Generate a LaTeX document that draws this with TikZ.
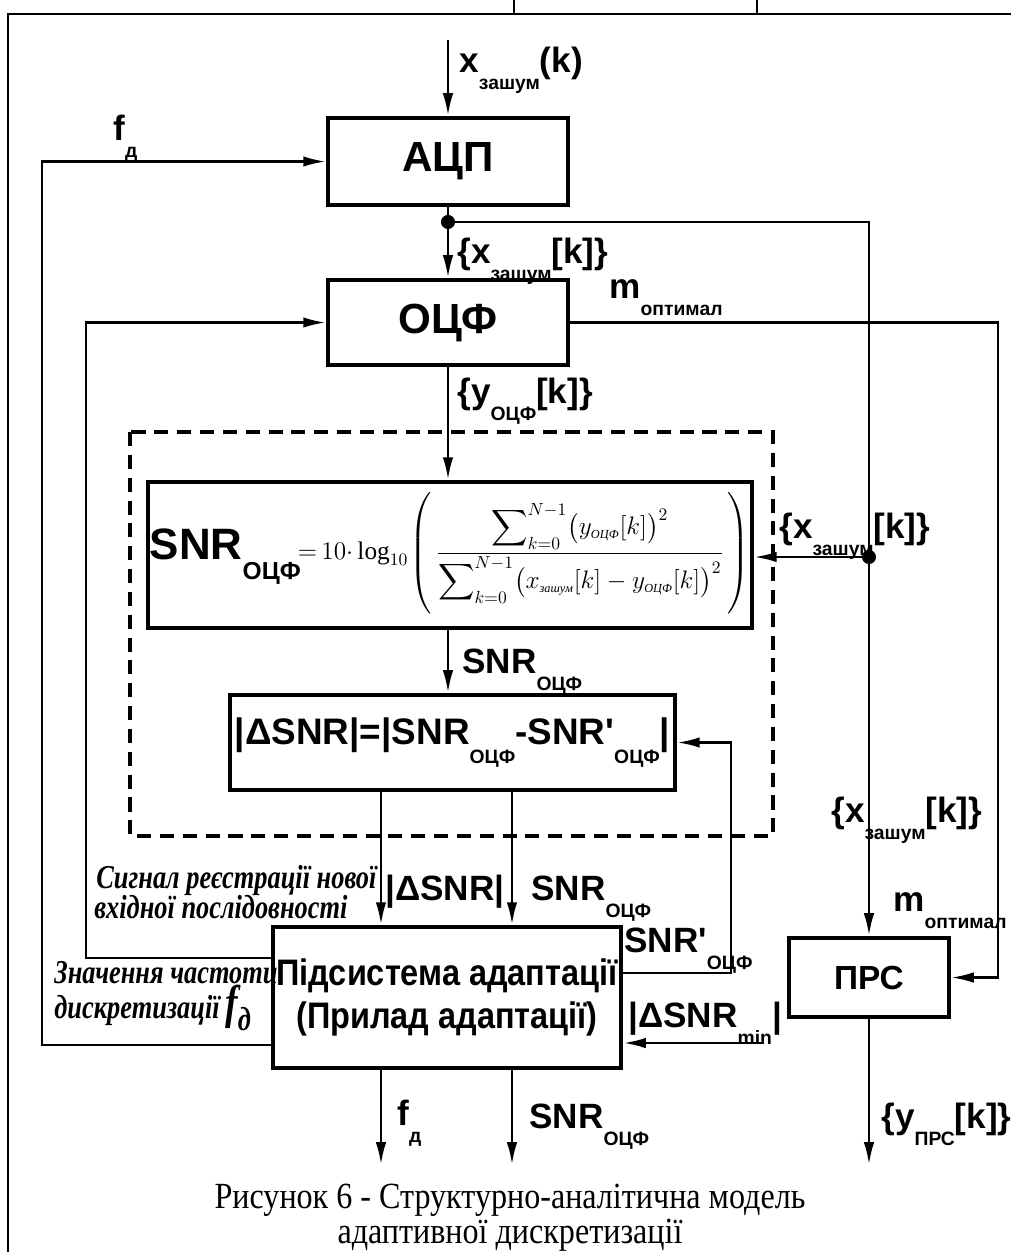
\documentclass[tikz,border=0pt]{standalone}
\usepackage{amsmath}
\usepackage{fontspec}
\setmainfont{Liberation Serif}
\setsansfont{Liberation Sans}
\newfontfamily\capfont[FakeStretch=0.87]{Liberation Serif}
\newfontfamily\notefont[FakeStretch=0.79]{Liberation Serif}
\newfontfamily\narrowsans[FakeStretch=0.88]{Liberation Sans}
\usetikzlibrary{arrows.meta,positioning,calc}
\newcommand{\lsub}[1]{\raisebox{-0.5em}{\fontsize{11}{12}\selectfont #1}}
\newcommand{\mcyr}[1]{\scriptscriptstyle\textnormal{\rmfamily\itshape #1}}
\newcommand{\sq}{\textquotesingle}
\begin{document}
\begin{tikzpicture}[x=0.02cm, y=-0.02cm, >={Latex[length=13pt,width=6pt]}, line width=1.6pt,
  blockbox/.style={draw, line width=2.2pt, inner sep=2pt, align=center,
    font=\sffamily\bfseries\fontsize{24}{28}\selectfont},
  lbl/.style={anchor=base west, inner sep=0pt, font=\sffamily\bfseries\fontsize{20}{22}\selectfont},
  note/.style={anchor=base west, inner sep=0pt, font=\notefont\bfseries\itshape\fontsize{19}{22}\selectfont}]
  \useasboundingbox (0,0) rectangle (1011,1252);
  % page frame
  \draw[line width=1.2pt] (8,1252) -- (8,14) -- (1011,14);
  \draw[line width=1.2pt] (514,0) -- (514,14) (757,0) -- (757,14);
  % blocks
  \node[blockbox, minimum width=4.8cm, minimum height=1.74cm] (acp) at (448,161.5) {АЦП};
  \node[blockbox, minimum width=4.8cm, minimum height=1.7cm] (ocf) at (448,322.5) {ОЦФ};
  \node[blockbox, minimum width=12.08cm, minimum height=2.92cm, inner sep=0pt] (snr) at (450,555)
    {{\fontsize{25}{28}\selectfont SNR\raisebox{-0.45em}{\fontsize{14}{15}\selectfont ОЦФ}}%
     {\rmfamily\mdseries\fontsize{14.4}{17}\selectfont
      $\mkern-2mu=\mkern-2mu10{\cdot}\log_{10}\mkern-2mu\left(\rule[-33pt]{0pt}{66pt}\,\dfrac{\displaystyle\sum\nolimits_{k=0}^{N-1}\bigl(y_{\mcyr{ОЦФ}}[k]\bigr)^{2}}
       {\displaystyle\sum\nolimits_{k=0}^{N-1}\bigl(x_{\mcyr{зашум}}[k]-y_{\mcyr{ОЦФ}}[k]\bigr)^{2}}\,\right)$}};
  \node[blockbox, minimum width=8.9cm, minimum height=1.9cm,
    font=\sffamily\bfseries\fontsize{21}{24}\selectfont] (dsnr) at (452.5,742.5)
    {|ΔSNR|=|SNR\lsub{ОЦФ}-SNR\sq\lsub{ОЦФ}|};
  \node[blockbox, minimum width=6.8cm, minimum height=2.82cm,
    font=\narrowsans\bfseries\fontsize{21}{24}\selectfont] (adapt) at (447,997.5)
    {Підсистема адаптації\\(Прилад адаптації)};
  \node[blockbox, minimum width=3.2cm, minimum height=1.58cm,
    font=\sffamily\bfseries\fontsize{19}{22}\selectfont] (prs) at (869,977.5) {ПРС};
  \draw[dashed, dash pattern=on 8pt off 5pt, line width=2.2pt] (130,432) rectangle (773,836);
  % bend points
  \coordinate (xin) at (448,40);
  \coordinate (j1) at (448,222);
  \coordinate (j2) at (869,557);
  \coordinate (xl1) at (42,0);   \coordinate (xl2) at (86,0);
  \coordinate (xa) at (381,0);   \coordinate (xb) at (512,0);
  \coordinate (xr1) at (731,0);  \coordinate (xr2) at (998,0);
  \coordinate (ya) at (0,1045);  \coordinate (yb) at (0,958);
  \coordinate (yc) at (0,973);   \coordinate (yo) at (0,1165);
  \coordinate (dmin) at (763,1043);
  % connectors
  \draw[->] (xin) -- (acp.north);
  \draw (acp.south) -- (j1);
  \draw[->] (j1) -- (ocf.north);
  \draw (j1) -- (j1 -| j2) -- (j2);
  \draw[->] (j2) -- (snr.east |- j2);
  \draw[->] (j2) -- (prs.north);
  \draw[->] (ocf.east) -- (ocf.east -| xr2) -- (prs.east -| xr2) -- (prs.east);
  \draw[->] (ocf.south) -- (snr.north -| ocf.south);
  \draw[->] (snr.south -| ocf.south) -- (dsnr.north -| ocf.south);
  \draw[->] (dsnr.south -| xa) -- (adapt.north -| xa);
  \draw[->] (dsnr.south -| xb) -- (adapt.north -| xb);
  \draw[->] (adapt.west |- ya) -- (xl1 |- ya) -- (xl1 |- acp.west) -- (acp.west);
  \draw[->] (adapt.west |- yb) -- (xl2 |- yb) -- (xl2 |- ocf.west) -- (ocf.west);
  \draw[->] (adapt.east |- yc) -- (xr1 |- yc) -- (xr1 |- dsnr.east) -- (dsnr.east);
  \draw[->] (dmin) -- (adapt.east |- dmin);
  \draw[->] (adapt.south -| xa) -- (xa |- yo);
  \draw[->] (adapt.south -| xb) -- (xb |- yo);
  \draw[->] (prs.south) -- (prs.south |- yo);
  \foreach \p in {(j1), (j2)} { \fill \p circle (4pt); }
  % signal labels
  \foreach \p/\t [count=\i] in {(458,72)/{x\lsub{зашум}(k)}, (112,140)/{f\lsub{д}},
      (456,263)/{\{x\lsub{зашум}[k]\}}, (608,298)/{m\lsub{оптимал}},
      (456,403)/{\{y\lsub{ОЦФ}[k]\}}, (778,538)/{\{x\lsub{зашум}[k]\}},
      (461,673)/{SNR\lsub{ОЦФ}}, (830,822)/{\{x\lsub{зашум}[k]\}},
      (384,900)/{|ΔSNR|}, (530,900)/{SNR\lsub{ОЦФ}}, (892,911)/{m\lsub{оптимал}},
      (623,952)/{SNR\sq\lsub{ОЦФ}}, (627,1027)/{|ΔSNR\lsub{min}|},
      (396,1125)/{f\lsub{д}}, (528,1128)/{SNR\lsub{ОЦФ}}, (880,1128)/{\{y\lsub{ПРС}[k]\}}}
    { \node[lbl] (lab\i) at \p {\t}; }
  % italic notes
  \node[note] (reg1) at (95,888) {Сигнал реєстрації нової};
  \node[note] (reg2) at (93,918) {вхідної послідовності};
  \node[note] (fr1) at (53,983) {Значення частоти};
  \node[note] (fr2) at (53,1018) {дискретизації\,{\fontsize{27}{27}\selectfont f}\raisebox{-7pt}{д}};
  % caption
  \node[font=\capfont\fontsize{21}{24}\selectfont, anchor=base] (cap1) at (510,1208)
    {Рисунок 6 - Структурно-аналітична модель};
  \node[font=\capfont\fontsize{21}{24}\selectfont, anchor=base] (cap2) at (510,1243)
    {адаптивної дискретизації};
\end{tikzpicture}
\end{document}
